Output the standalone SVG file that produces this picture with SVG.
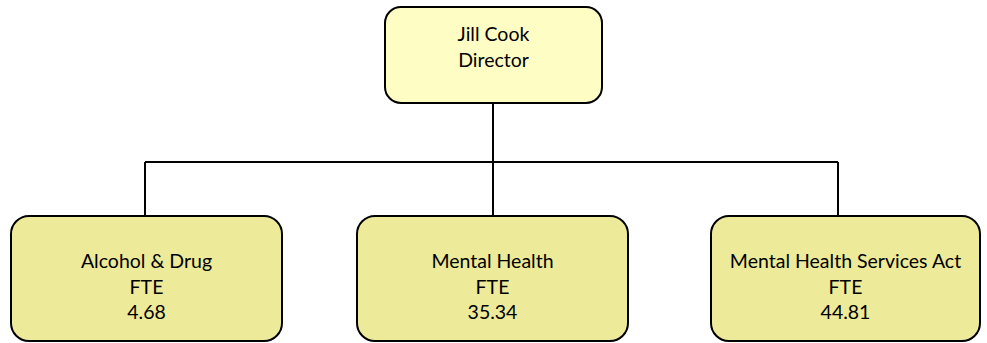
<svg xmlns="http://www.w3.org/2000/svg" width="987" height="343" viewBox="0 0 987 343">
<style>
.box{stroke:#000;stroke-width:2}
.top{fill:#FEFDC4}
.sub{fill:#EDEA9A}
text{font-family:Lato,"Open Sans",sans-serif;font-size:19.5px;fill:#000;text-anchor:middle}
.conn{fill:none;stroke:#000;stroke-width:2}
</style>
<rect width="987" height="343" fill="#fff"/>
<g id="connectors">
<path class="conn" d="M493,103 V162 M145,162 H838 M145,162 V216 M493,162 V216 M838,162 V216"/>
</g>
<g id="director">
<rect class="box top" x="385" y="7" width="217" height="96" rx="16"/>
<text x="493.5" y="41">Jill Cook</text>
<text x="493.5" y="67">Director</text>
</g>
<g id="alcohol-drug">
<rect class="box sub" x="11" y="216" width="271" height="125" rx="18"/>
<text x="146.5" y="268">Alcohol &amp; Drug</text>
<text x="146.5" y="294">FTE</text>
<text x="146.5" y="319">4.68</text>
</g>
<g id="mental-health">
<rect class="box sub" x="357" y="216" width="271" height="125" rx="18"/>
<text x="492.5" y="268">Mental Health</text>
<text x="492.5" y="294">FTE</text>
<text x="492.5" y="319">35.34</text>
</g>
<g id="mhsa">
<rect class="box sub" x="711" y="216" width="269" height="125" rx="18"/>
<text x="845.5" y="268">Mental Health Services Act</text>
<text x="845.5" y="294">FTE</text>
<text x="845.5" y="319">44.81</text>
</g>
</svg>
